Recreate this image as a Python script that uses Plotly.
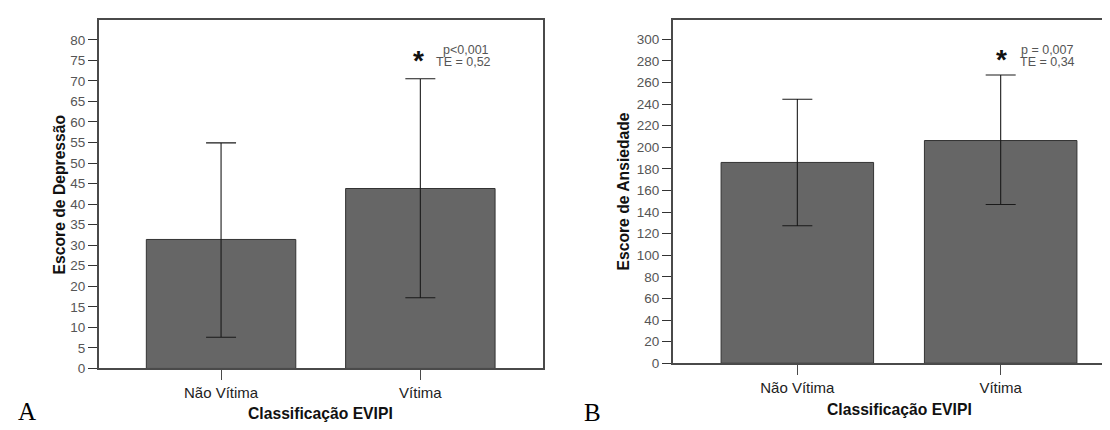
import plotly.graph_objects as go

# ---- data ----
categories = ["Não Vítima", "Vítima"]

dep_mean = [31.4, 43.8]
dep_upper = [54.9, 70.5]
dep_lower = [7.6, 17.2]

anx_mean = [186.0, 206.3]
anx_upper = [244.5, 267.0]
anx_lower = [127.3, 147.0]

dep_ticks = list(range(0, 85, 5))
anx_ticks = list(range(0, 301, 20))

W, H = 1110, 430
BAR = "#666666"
EDGE = "#333333"
AXIS = "#4a4a4a"
FONT = "Liberation Sans, Arial, sans-serif"


def px(x):
    return x / W


def py(y):
    return 1 - y / H


fig = go.Figure()


def add_bars(mean, upper, lower, xa, ya):
    fig.add_trace(go.Bar(
        x=categories, y=mean, xaxis=xa, yaxis=ya, width=0.75,
        marker=dict(color=BAR, line=dict(color=EDGE, width=1)),
        error_y=dict(type="data", symmetric=False,
                     array=[u - m for u, m in zip(upper, mean)],
                     arrayminus=[m - l for m, l in zip(mean, lower)],
                     color="#1a1a1a", thickness=1.1, width=15),
        showlegend=False, hoverinfo="skip"))


add_bars(dep_mean, dep_upper, dep_lower, "x", "y")
add_bars(anx_mean, anx_upper, anx_lower, "x2", "y2")

xcommon = dict(type="category", showline=True, linecolor=AXIS, linewidth=1.5,
               mirror=True, ticks="outside", ticklen=10, tickcolor=AXIS,
               tickwidth=1, showgrid=False, zeroline=False,
               tickfont=dict(family=FONT, size=15, color="#222222"))
ycommon = dict(showline=True, linecolor=AXIS, linewidth=1.5, ticks="outside",
               ticklen=9, tickcolor="#333333", tickwidth=1.2, showgrid=False,
               zeroline=False, tickfont=dict(family=FONT, size=13.5, color="#555555"))

fig.update_layout(
    width=W, height=H, margin=dict(l=0, r=0, t=0, b=0),
    paper_bgcolor="white", plot_bgcolor="white", bargap=0.25,
    xaxis=dict(xcommon, domain=[px(90.7), px(534.7)], range=[-0.614, 1.614], anchor="y"),
    yaxis=dict(ycommon, domain=[py(367.3), py(12.7)], range=[0, 84.7],
               tickvals=dep_ticks, mirror=True, anchor="x"),
    xaxis2=dict(xcommon, domain=[px(664.7), 1.0], range=[-0.613, 1.577], anchor="y2"),
    yaxis2=dict(ycommon, domain=[py(362), py(12.7)], range=[0, 317.5],
                tickvals=anx_ticks, mirror=False, anchor="x2"),
)

ann = []


def text(x, y, s, size, color="#000000", angle=0, family=FONT):
    ann.append(dict(x=px(x), y=py(y), xref="paper", yref="paper", text=s,
                    showarrow=False, textangle=angle, xanchor="center", yanchor="middle",
                    font=dict(family=family, size=size, color=color)))


# axis titles
text(51, 190, "<b>Escore de Depressão</b>", 15.7, "#111111", angle=-90)
text(616, 187, "<b>Escore de Ansiedade</b>", 15.7, "#111111", angle=-90)
text(312.7, 413.3, "<b>Classificação EVIPI</b>", 15.7, "#111111")
text(891, 409.5, "<b>Classificação EVIPI</b>", 15.7, "#111111")

# panel letters
text(19, 411, "A", 25, "#000000", family="Liberation Serif, Times New Roman, serif")
text(584, 412, "B", 25, "#000000", family="Liberation Serif, Times New Roman, serif")

# significance annotations
text(410.7, 53, "<b>*</b>", 28, "#111111")
text(457.5, 43.3, "p<0,001", 12.5, "#555555")
text(455, 55, "TE = 0,52", 12.5, "#555555")
text(993.3, 52.5, "<b>*</b>", 28, "#111111")
text(1039, 42.7, "p = 0,007", 12.5, "#555555")
text(1039, 55, "TE = 0,34", 12.5, "#555555")

fig.update_layout(annotations=ann)

fig.write_html("out.html")
